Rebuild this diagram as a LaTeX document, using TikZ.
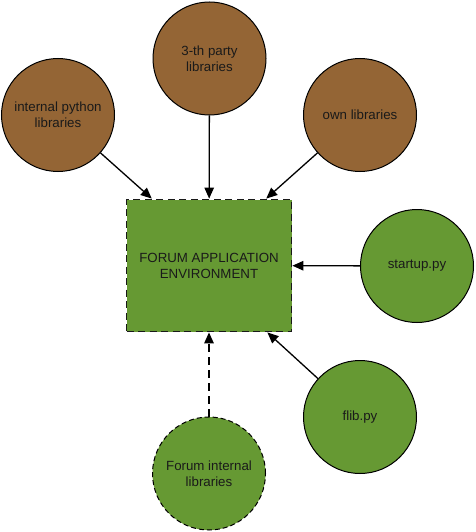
\documentclass[tikz,border=0pt]{standalone}
\usepackage{fontspec}
\setmainfont{Liberation Sans}
\usetikzlibrary{arrows.meta,calc}
\definecolor{brownfill}{HTML}{946535}
\definecolor{greenfill}{HTML}{669933}
\definecolor{txt}{HTML}{1A1A1A}
\begin{document}
\begin{tikzpicture}[x=1pt,y=-1pt,
  lib/.style={circle,draw=black,line width=1pt,minimum size=113pt,inner sep=0pt,align=center,
    font=\fontsize{13.3}{16}\selectfont,text=txt},
  brownlib/.style={lib,fill=brownfill},
  greenlib/.style={lib,fill=greenfill},
  envbox/.style={rectangle,draw=black!90,fill=greenfill,line width=1.8pt,dash pattern=on 7pt off 4.5pt,
    minimum width=165pt,minimum height=132pt,inner sep=0pt,align=center,
    font=\fontsize{13.3}{16}\selectfont,text=txt},
  conn/.style={line width=1.3pt,-{Triangle[length=11pt,width=9.5pt]}},
  dconn/.style={conn,dash pattern=on 8pt off 5pt}]
\useasboundingbox (0,0) rectangle (475,532);
\node[envbox] (env) at (209,265.5) {FORUM APPLICATION\\ENVIRONMENT};
\node[brownlib] (ipl) at (58,115) {internal python\\libraries};
\node[brownlib] (tpl) at (209.5,58.5) {3-th party\\libraries};
\node[brownlib] (own) at (360,115) {own libraries};
\node[greenlib] (startup) at (417,266) {startup.py};
\node[greenlib] (flib) at (360,417) {flib.py};
\node[greenlib,dash pattern=on 5pt off 3pt] (fil) at (209,473.5) {Forum internal\\libraries};
\coordinate (tA) at ($(env.north west)!0.157!(env.north east)$);
\coordinate (tC) at ($(env.north west)!0.843!(env.north east)$);
\coordinate (bC) at ($(env.south west)!0.85!(env.south east)$);
\draw[conn] (ipl) -- (tA);
\draw[conn] (tpl) -- (env);
\draw[conn] (own) -- (tC);
\draw[conn] (startup) -- (env);
\draw[conn] (flib) -- (bC);
\draw[dconn] (fil) -- (env);
\end{tikzpicture}
\end{document}
